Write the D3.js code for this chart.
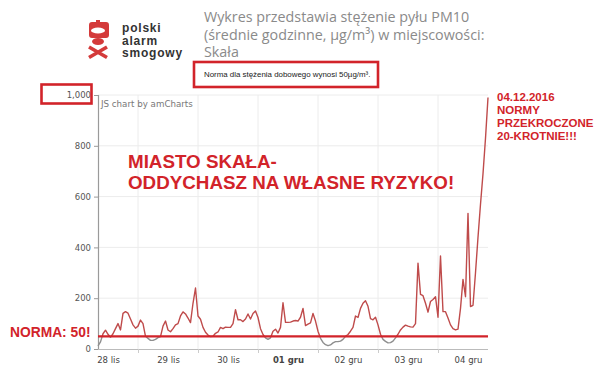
<!DOCTYPE html>
<html><head><meta charset="utf-8">
<script src="https://cdn.jsdelivr.net/npm/d3@7"></script>
<style>
html,body{margin:0;padding:0;background:#fff;}
svg{display:block;}
</style></head>
<body>
<svg id="chart" width="600" height="371"></svg>
<script>
// ---- data ----
const startTime = new Date(2016, 10, 28, 8); // 28 lis 08:00, hourly values
const pm10 = [
 12,28,60,74,58,46,60,80,100,75,140,147,141,118,95,82,
 90,114,100,50,42,34,34,38,45,49,90,110,75,68,80,95,100,130,146,138,122,104,180,240,
 130,117,85,66,55,49,50,62,67,85,80,86,85,85,100,155,115,115,108,118,138,118,140,150,
 124,80,57,44,38,44,70,78,63,85,182,105,105,106,110,112,110,125,160,92,98,103,140,110,
 70,42,26,17,13,16,24,29,29,31,38,50,57,70,85,130,124,160,180,190,168,120,115,125,
 95,58,38,30,24,25,31,44,58,75,86,94,90,87,86,100,338,215,210,180,145,187,195,206,
 125,366,147,147,122,95,80,75,78,160,274,206,534,167,172,300,440,570,690,830,990
];
const normValue = 50;
const yTicks = [0, 200, 400, 600, 800, 1000];
const xTickLabels = ["28 lis", "29 lis", "30 lis", "01 gru", "02 gru", "03 gru", "04 gru"];
const titleLines = ["Wykres przedstawia stężenie pyłu PM10", "(średnie godzinne, µg/m³) w miejscowości:", "Skała"];
const logoLines = ["polski", "alarm", "smogowy"];
const subtitle = "Norma dla stężenia dobowego wynosi 50µg/m³.";
const headline = ["MIASTO SKAŁA-", "ODDYCHASZ NA WŁASNE RYZYKO!"];
const noteLines = ["04.12.2016", "NORMY", "PRZEKROCZONE", "20-KROTNIE!!!"];

const data = pm10.map((v, i) => ({t: d3.timeHour.offset(startTime, i), v}));

const svg = d3.select("#chart");
const RED = "#d2232a";
const LINE = "#bf4b4b";

const x = d3.scaleTime()
  .domain([startTime, d3.timeHour.offset(startTime, pm10.length - 1)])
  .range([98, 488]);
const y = d3.scaleLinear().domain([0, 1000]).range([349, 95]);

// ---- grid ----
const midnights = d3.timeDay.range(d3.timeDay.ceil(startTime), x.domain()[1]);
const noons = d3.timeDay.range(d3.timeDay.floor(startTime), x.domain()[1]).map(d => d3.timeHour.offset(d, 12));

svg.append("g").selectAll("line").data(yTicks.slice(1)).join("line")
  .attr("x1", 98).attr("x2", 488).attr("y1", d => y(d)).attr("y2", d => y(d))
  .attr("stroke", "#ececec").attr("stroke-width", 1);
svg.append("g").selectAll("line").data(midnights).join("line")
  .attr("x1", d => x(d)).attr("x2", d => x(d)).attr("y1", 95).attr("y2", 349)
  .attr("stroke", "#ececec").attr("stroke-width", 1);

// ---- axes ----
const yAxis = svg.append("g").attr("transform", "translate(98,0)")
  .call(d3.axisLeft(y).tickValues(yTicks).tickSize(4).tickPadding(3).tickFormat(d3.format(",")));
yAxis.select(".domain").attr("stroke", "#9a9a9a").attr("stroke-width", 1.2);
yAxis.selectAll(".tick line").attr("stroke", "#9a9a9a");
yAxis.selectAll(".tick text").attr("fill", "#555").style("font", "8.5px 'DejaVu Sans', sans-serif");

const xAxisTicks = svg.append("g").attr("transform", "translate(0,349)")
  .call(d3.axisBottom(x).tickValues(midnights).tickSize(4).tickFormat(""));
xAxisTicks.select(".domain").attr("stroke", "#bbb").attr("d", "M98,0.5H488");
xAxisTicks.selectAll(".tick line").attr("stroke", "#ccc");

const xLabels = svg.append("g").attr("transform", "translate(0,349)")
  .call(d3.axisBottom(x).tickValues(noons).tickSize(0).tickPadding(8)
    .tickFormat((d, i) => xTickLabels[i]));
xLabels.select(".domain").remove();
xLabels.selectAll(".tick text").attr("fill", "#444")
  .style("font", "8.5px 'DejaVu Sans', sans-serif")
  .style("font-weight", (d, i) => xTickLabels[i] === "01 gru" ? "bold" : "normal");

// ---- line (red above norm, grey below) ----
const defs = svg.append("defs");
defs.append("clipPath").attr("id", "above").append("rect")
  .attr("x", 90).attr("y", 0).attr("width", 410).attr("height", y(normValue));
defs.append("clipPath").attr("id", "below").append("rect")
  .attr("x", 90).attr("y", y(normValue)).attr("width", 410).attr("height", 371 - y(normValue));
const line = d3.line().x(d => x(d.t)).y(d => y(d.v));
svg.append("path").datum(data).attr("d", line).attr("fill", "none")
  .attr("stroke", LINE).attr("stroke-width", 1.4).attr("stroke-linejoin", "round")
  .attr("clip-path", "url(#above)");
svg.append("path").datum(data).attr("d", line).attr("fill", "none")
  .attr("stroke", "#8e8e8e").attr("stroke-width", 1.4).attr("stroke-linejoin", "round")
  .attr("clip-path", "url(#below)");

// norm line
svg.append("line").attr("x1", x.range()[0]).attr("x2", x.range()[1])
  .attr("y1", y(normValue)).attr("y2", y(normValue))
  .attr("stroke", RED).attr("stroke-width", 2.2);

// credits
svg.append("text").attr("x", 101).attr("y", 107).text("JS chart by amCharts")
  .attr("fill", "#777").style("font", "8.7px 'DejaVu Sans', sans-serif");

// ---- header: logo ----
const logo = svg.append("g");
logo.append("path")
  .attr("d", "M96,20 h4 v2 h6 q3,0 3,3 v10 q0,3 -3,3 h-14 q-3,0 -3,-3 v-10 q0,-3 3,-3 h4 z")
  .attr("fill", "#d43a3a");
logo.append("ellipse").attr("cx", 98).attr("cy", 30.5).attr("rx", 7).attr("ry", 3).attr("fill", "#fff");
logo.append("ellipse").attr("cx", 98).attr("cy", 41.5).attr("rx", 6).attr("ry", 3.5).attr("fill", "#d43a3a");
logo.append("path").attr("d", "M89,47 L107,57.5 M107,47 L89,57.5")
  .attr("stroke", "#d43a3a").attr("stroke-width", 3.6).attr("fill", "none");
const logoText = logo.append("text")
  .attr("fill", "#333").style("font", "bold 12px 'Liberation Sans', Arial, sans-serif")
  .style("letter-spacing", "0.8px");
logoText.selectAll("tspan").data(logoLines).join("tspan")
  .attr("x", 122).attr("y", (d, i) => 32 + i * 12.5).text(d => d);

// title
const titleText = svg.append("text")
  .attr("fill", "#8a8a8a").style("font", "14.3px 'Open Sans', sans-serif");
titleText.selectAll("tspan").data(titleLines).join("tspan")
  .attr("x", 204).attr("y", (d, i) => 22 + i * 17.5).text(d => d);

// subtitle box
svg.append("rect").attr("x", 194).attr("y", 62).attr("width", 184).attr("height", 25)
  .attr("fill", "none").attr("stroke", RED).attr("stroke-width", 2.6);
svg.append("text").attr("x", 204).attr("y", 77).text(subtitle)
  .attr("fill", "#222").style("font", "7.9px 'Liberation Sans', Arial, sans-serif");

// box round 1,000
svg.append("rect").attr("x", 41.5).attr("y", 84.5).attr("width", 50).attr("height", 19)
  .attr("fill", "none").attr("stroke", RED).attr("stroke-width", 2.6);

// headline
const headText = svg.append("text")
  .attr("fill", RED).style("font", "bold 18.8px 'Liberation Sans', Arial, sans-serif");
headText.selectAll("tspan").data(headline).join("tspan")
  .attr("x", 128).attr("y", (d, i) => 168 + i * 21).text(d => d);

// norma label
svg.append("text").attr("x", 10).attr("y", 337).text("NORMA: " + normValue + "!")
  .attr("fill", RED).style("font", "bold 13.8px 'Liberation Sans', Arial, sans-serif");

// right note
const noteText = svg.append("text")
  .attr("fill", RED).style("font", "bold 11.5px 'Liberation Sans', Arial, sans-serif");
noteText.selectAll("tspan").data(noteLines).join("tspan")
  .attr("x", 497).attr("y", (d, i) => 101 + i * 12.9).text(d => d);
</script>
</body></html>
